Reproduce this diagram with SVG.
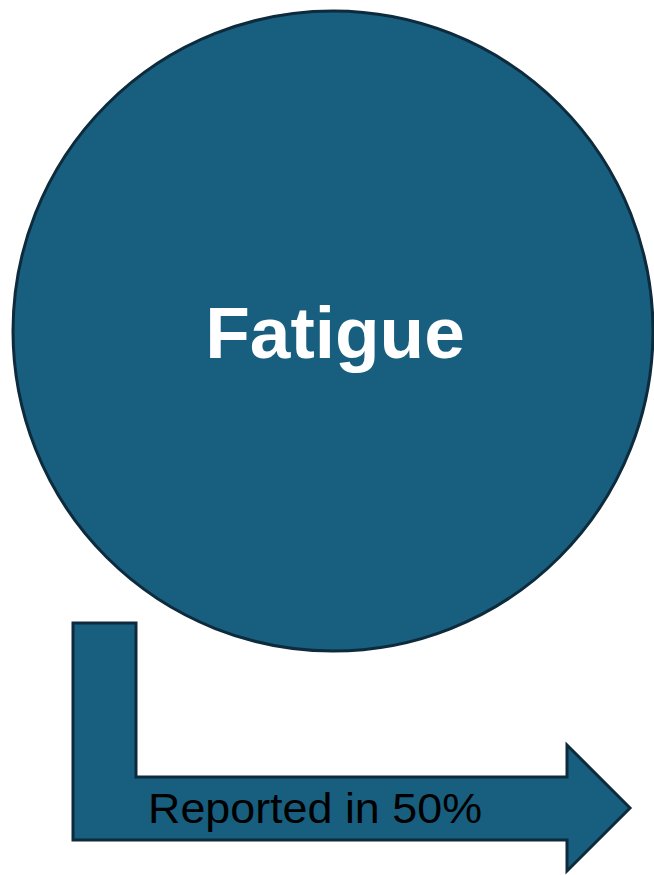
<svg xmlns="http://www.w3.org/2000/svg" width="654" height="875" viewBox="0 0 654 875">
<style>
.shape{fill:#175E7F;stroke:#0D2B3C;stroke-width:3;stroke-linejoin:miter}
.title{font-family:"Liberation Sans",Arial,sans-serif;font-weight:bold;font-size:73px;fill:#FFFFFF}
.label{font-family:"Liberation Sans",Arial,sans-serif;font-size:42px;fill:#000000}
</style>
<rect width="654" height="875" fill="#FFFFFF"/>
<g id="node-fatigue">
<circle class="shape" cx="333" cy="331" r="320"/>
<text class="title" x="335" y="358" text-anchor="middle">Fatigue</text>
</g>
<g id="connectors">
<g id="arrow-reported">
<path class="shape" d="M73,623 L136,623 L136,777 L567,777 L567,745 L630,808 L567,871 L567,840 L73,840 Z"/>
<text class="label" x="148" y="823" textLength="334" lengthAdjust="spacingAndGlyphs">Reported in 50%</text>
</g>
</g>
</svg>
